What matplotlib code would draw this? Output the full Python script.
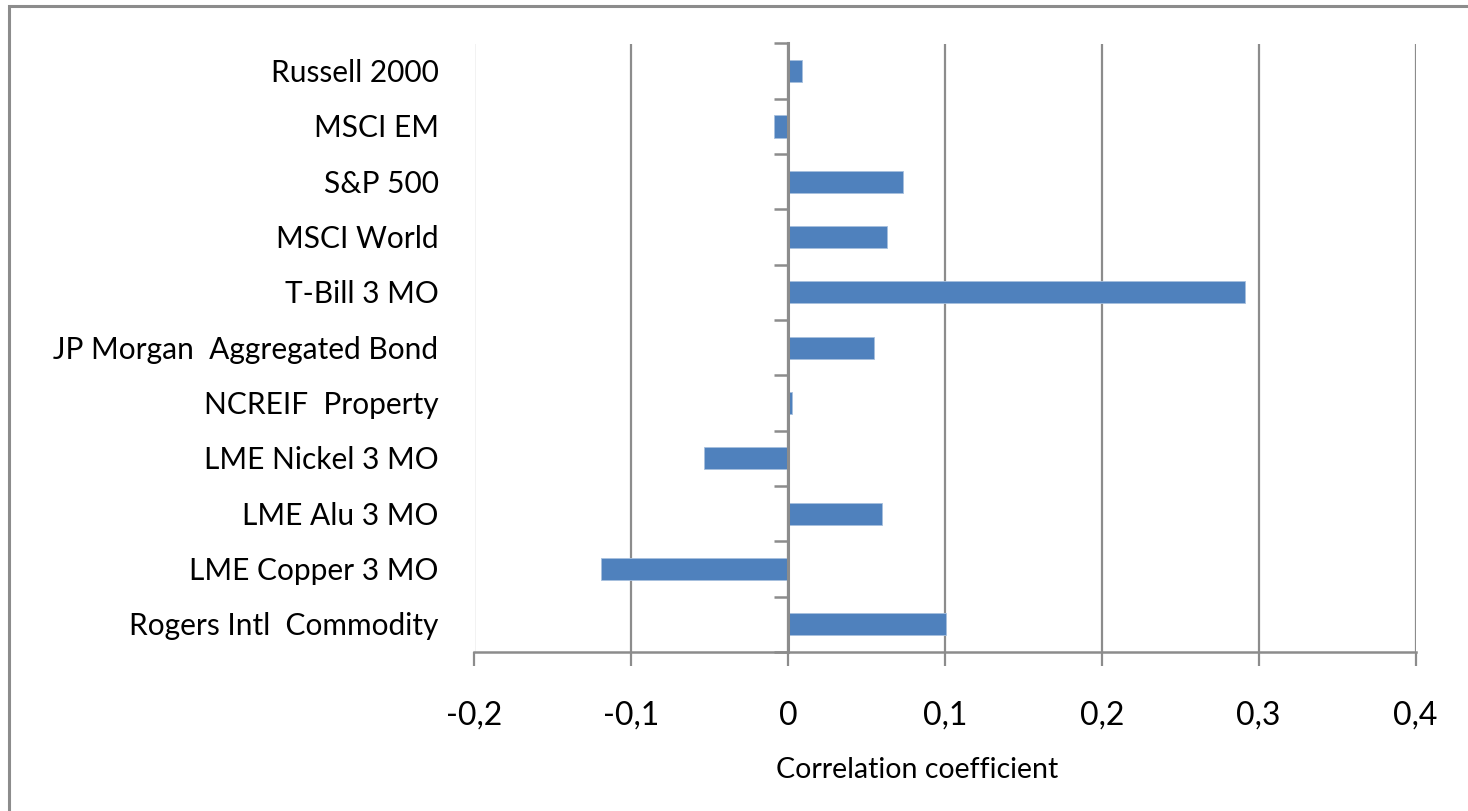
import matplotlib
matplotlib.use("Agg")
import matplotlib.pyplot as plt
import matplotlib.transforms as mtransforms
from matplotlib.patches import Rectangle

# Correlation of each index with the target series
categories = [
    "Russell 2000",
    "MSCI EM",
    "S&P 500",
    "MSCI World",
    "T-Bill 3 MO",
    "JP Morgan  Aggregated Bond",
    "NCREIF  Property",
    "LME Nickel 3 MO",
    "LME Alu 3 MO",
    "LME Copper 3 MO",
    "Rogers Intl  Commodity",
]
correlations = [0.009, -0.009, 0.073, 0.063, 0.291, 0.055, 0.0025, -0.0535, 0.060, -0.1195, 0.1005]
x_ticks = [-0.2, -0.1, 0.0, 0.1, 0.2, 0.3, 0.4]
x_tick_labels = ["-0,2", "-0,1", "0", "0,1", "0,2", "0,3", "0,4"]
x_title = "Correlation coefficient"

BAR = "#4F81BD"
GRID = "#8C8C8C"
FONT = "Lato"

W, H = 1468, 811
fig = plt.figure(figsize=(W / 100, H / 100), dpi=100)
fig.patch.set_facecolor("white")

# chart frame (left and top edges visible)
fig.add_artist(Rectangle((8.5 / W, -0.05), 1.2, 1 - 5.5 / H + 0.05,
                         transform=fig.transFigure, fill=False,
                         edgecolor=GRID, linewidth=2.2))

ax = fig.add_axes([474.5 / W, 1 - 652 / H, 941 / W, 608.5 / H])

ypos = list(range(len(categories)))
ax.barh(ypos, correlations, height=0.4, color=BAR, edgecolor="#A7C0DE",
        linewidth=0.6, zorder=2)

ax.set_xlim(-0.2, 0.4)
ax.set_ylim(len(categories) - 0.5, -0.5)

# vertical gridlines
ax.set_xticks(x_ticks)
ax.set_xticklabels(x_tick_labels, fontsize=23, fontfamily=FONT)
ax.grid(axis="x", color=GRID, linewidth=1.6, zorder=0)
ax.set_axisbelow(True)
ax.tick_params(axis="x", direction="out", length=10, width=1.6, color=GRID,
               pad=25, labelcolor="black")

# category axis drawn at zero with ticks between categories
for s in ("top", "right"):
    ax.spines[s].set_visible(False)
ax.spines["left"].set_position(("data", 0))
ax.spines["left"].set_color(GRID)
ax.spines["left"].set_linewidth(2.2)
ax.spines["left"].set_zorder(3)
ax.spines["bottom"].set_color(GRID)
ax.spines["bottom"].set_linewidth(1.8)
ax.set_yticks([i - 0.5 for i in range(len(categories) + 1)])
ax.set_yticklabels([])
ax.tick_params(axis="y", direction="out", length=10, width=1.8, color=GRID)

# category labels at the left of the plot area
lab_tr = mtransforms.offset_copy(
    mtransforms.blended_transform_factory(ax.transAxes, ax.transData),
    fig=fig, x=-36, y=-2, units="dots")
for y, name in zip(ypos, categories):
    ax.text(0, y, name, transform=lab_tr, ha="right", va="center",
            fontsize=21.5, fontfamily=FONT, color="black")

fig.text(917 / W, 1 - 770 / H, x_title, ha="center", va="center",
         fontsize=20.5, fontfamily=FONT, color="black")

fig.savefig("out.png", dpi=100)
